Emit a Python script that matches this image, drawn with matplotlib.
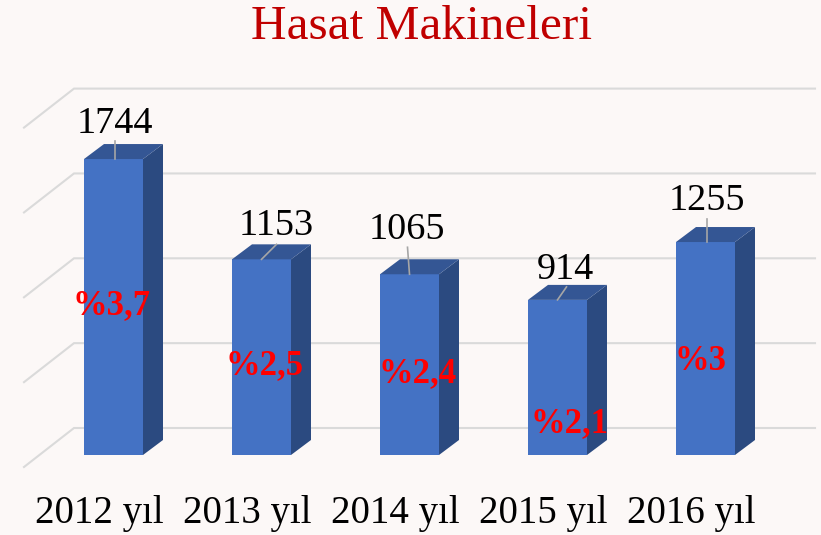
import matplotlib
matplotlib.use("Agg")
import matplotlib.pyplot as plt
import matplotlib.transforms as mtrans
from matplotlib.patches import Polygon

plt.rcParams['font.family'] = ['Liberation Serif', 'DejaVu Serif']

years = ["2012 yıl", "2013 yıl", "2014 yıl", "2015 yıl", "2016 yıl"]
machines = [1744, 1153, 1065, 914, 1255]
shares = ["%3,7", "%2,5", "%2,4", "%2,1", "%3"]
grid_values = [0, 500, 1000, 1500, 2000]
title = "Hasat Makineleri"

W, H = 821, 535
PX_X = 148.0          # pixels per category
PX_Y = 0.1697         # pixels per unit
X0, Y0 = 113.5, 455   # pixel of category 0, value 0
L, R, B, T = 24, 815, 467, 60

fig = plt.figure(figsize=(W / 100, H / 100), dpi=100, facecolor="#FCF8F7")
ax = fig.add_axes([L / W, 1 - B / H, (R - L) / W, (B - T) / H])
ax.patch.set_alpha(0)
ax.set_xlim((L - X0) / PX_X, (R - X0) / PX_X)
ax.set_ylim((Y0 - B) / PX_Y, (Y0 - T) / PX_Y)
for s in ax.spines.values():
    s.set_visible(False)

# 3D look, expressed in axis units
bar_w = 59 / PX_X
dx, dy = 20 / PX_X, 15 / PX_Y
wall_x0, wall_x1 = ax.get_xlim()[0], (74 - X0) / PX_X
wall_y0 = -12 / PX_Y      # front floor offset
wall_y1 = 27 / PX_Y       # back floor offset

grid_c = "#DADADA"
for g in grid_values:
    ax.plot([wall_x0, wall_x1, ax.get_xlim()[1]],
            [g + wall_y0, g + wall_y1, g + wall_y1],
            color=grid_c, lw=1.5, zorder=1, clip_on=False, solid_joinstyle="miter")

ax.bar(range(len(years)), machines, width=bar_w, color="#4472C4", zorder=3)
for i, v in enumerate(machines):
    x0, x1 = i - bar_w / 2, i + bar_w / 2
    ax.add_patch(Polygon([(x1, 0), (x1 + dx, dy), (x1 + dx, v + dy), (x1, v)],
                         color="#2B4A80", lw=0, zorder=3))
    ax.add_patch(Polygon([(x0, v), (x1, v), (x1 + dx, v + dy), (x0 + dx, v + dy)],
                         color="#345694", lw=0, zorder=3))

# label offsets from the bar's top centre, in pixels (x right, y up)
label_off = [(1, 35), (15, 34), (-3, 45), (8, 30), (1, 41)]
lead_start = [(1, 0), (0, 0), (0, 0), (0, 0), (1, 0)]
lead_end = [(1, 18), (15, 15), (-2, 27), (9, 13), (1, 23)]
for i, v in enumerate(machines):
    ax.annotate(str(v), (i, v), xytext=tuple(o * 0.72 for o in label_off[i]),
                textcoords="offset points", ha="center", va="center",
                fontsize=27.5, color="black", zorder=6, annotation_clip=False)
    ax.plot([i + lead_start[i][0] / PX_X, i + lead_end[i][0] / PX_X],
            [v, v + lead_end[i][1] / PX_Y], color="#A6A6A6", lw=1.2, zorder=5)

# share labels, offset from the bar's base centre in pixels
share_off = [(-1.5, 149), (3, 89), (8, 81), (12, 31), (-5, 94)]
for i, s in enumerate(shares):
    ax.annotate(s, (i, 0), xytext=tuple(o * 0.72 for o in share_off[i]),
                textcoords="offset points", ha="center", va="center",
                fontsize=25, fontweight="bold", color="#FF0000", zorder=7)

ax.set_yticks([])
ax.set_xticks(range(len(years)))
ax.set_xticklabels(years, fontsize=28, color="black")
ax.tick_params(axis="x", length=0, pad=20)
shift = mtrans.ScaledTranslation(-14 / 100, 0, fig.dpi_scale_trans)
for lab in ax.get_xticklabels():
    lab.set_transform(lab.get_transform() + shift)

fig.text(422 / W, 1 - 27 / H, title, ha="center", va="center",
         fontsize=35.5, color="#C00000")

fig.savefig("out.png", dpi=100, facecolor=fig.get_facecolor())
